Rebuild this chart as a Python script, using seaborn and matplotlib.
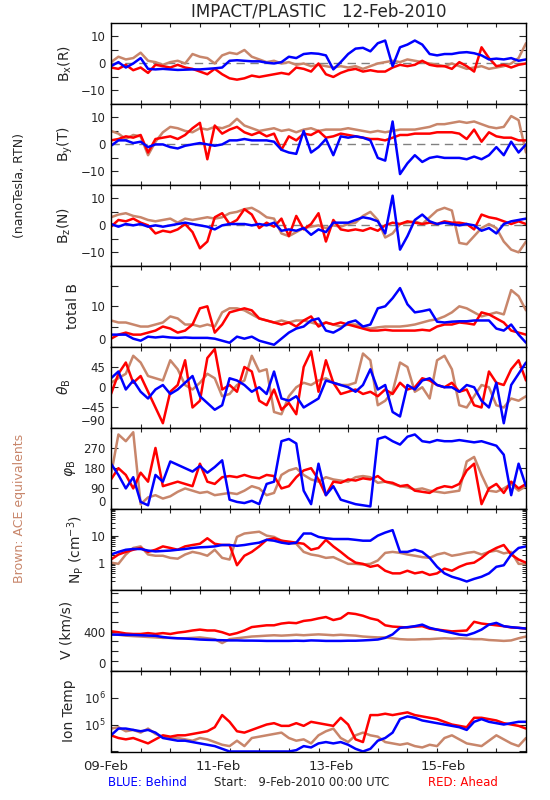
import numpy as np
import pandas as pd
import matplotlib
matplotlib.use('Agg')
import matplotlib.pyplot as plt
import matplotlib.ticker as mticker
import seaborn as sns

# 3-hourly samples starting 9-Feb-2010 00:00 (hours since start)
hours = np.arange(0, 169, 3)

# --- magnetic field components (nT) ---
bx_ace = [0.5, 2.5, 1.5, 2.0, 4.0, 1.0, 0.5, -0.5, 0.5, 1.0,
          0.0, 3.5, 2.5, 2.0, 0.0, 3.0, 4.0, 3.5, 5.0, 2.5,
          1.5, 0.5, 1.0, 0.0, 0.5, -0.5, 0.0, -1.0, -0.5, -1.0,
          -1.5, -1.0, -1.5, -1.0, -2.0, -1.0, 0.0, 0.5, 1.0, 0.5,
          1.5, 1.0, 0.5, 0.0, -0.5, -1.0, 0.0, -1.0, -2.0, -1.5,
          -1.0, -2.0, -1.5, -1.0, 0.0, 2.0, 7.5]
bx_ahead = [-1.5, -2.0, -0.5, -2.5, -1.5, -3.5, -0.5, -1.0, -1.5, -0.5,
            -1.5, -2.0, -3.0, -4.0, -2.0, -4.0, -5.5, -6.0, -5.5, -4.5,
            -5.0, -4.5, -4.0, -3.5, -4.0, -1.5, -2.0, -3.0, 0.0, -4.0,
            -5.0, -3.5, -2.5, -2.0, -3.0, -2.5, -3.0, -3.0, -1.5, -0.5,
            -1.0, -0.5, 1.0, -0.5, -1.0, -1.0, -2.0, 0.5, -1.0, -3.0,
            6.0, 2.0, -1.0, -0.5, -1.5, -0.5, 0.0]
bx_behind = [-1.0, 0.5, -1.5, 0.0, 2.0, -2.0, -2.2, -2.0, -2.2, -2.4,
             -2.3, -2.2, -2.2, -2.0, -1.8, -1.5, 1.0, 1.2, 1.0, 0.8,
             0.8, 0.3, 0.0, 0.5, 2.5, 2.0, 3.5, 3.8, 3.6, 3.0,
             -2.2, 0.5, 3.5, 5.5, 5.8, 4.5, 7.5, 8.5, -1.0, 6.0,
             7.0, 8.5, 7.0, 3.5, 3.0, 3.5, 3.5, 4.0, 4.2, 3.8,
             3.0, 1.5, 1.8, 1.5, 2.0, 1.0, 1.5]

by_ace = [5.0, 4.0, 2.0, 3.5, 3.0, -4.0, 1.0, 4.5, 6.5, 6.0,
          5.0, 4.5, 6.0, 5.5, 6.5, 6.0, 7.0, 9.5, 7.0, 6.0,
          5.0, 5.5, 6.0, 5.0, 5.5, 4.5, 5.5, 6.0, 5.0, 5.5,
          5.5, 5.5, 6.0, 5.5, 5.0, 4.5, 5.0, 4.5, 5.0, 5.5,
          5.5, 5.5, 6.0, 6.5, 7.5, 7.5, 8.0, 8.5, 8.0, 8.5,
          7.5, 6.5, 6.0, 6.5, 10.5, 9.0, -3.0]
by_ahead = [1.5, 2.0, 3.0, 2.5, 3.5, -3.0, 2.0, 2.5, 3.0, 2.0,
            3.5, 6.0, 8.0, -5.5, 7.0, 4.0, 5.5, 6.5, 4.5, 3.5,
            4.5, 3.0, 4.0, -2.0, 3.0, 1.5, 4.0, 3.5, 5.0, 2.5,
            3.0, 4.0, 3.5, 3.0, 2.5, 2.0, 2.0, 1.5, 2.5, 3.5,
            3.5, 4.0, 4.0, 4.0, 4.5, 4.5, 4.5, 4.0, 2.0, 5.5,
            1.0, 4.5, 3.0, 2.5, 2.5, 1.5, 1.5]
by_behind = [-0.5, 1.5, 1.5, 0.5, 1.0, -1.0, 0.0, 0.0, -1.0, -1.5,
             -0.5, 0.0, 0.5, 0.0, -0.5, 0.0, 1.5, 1.5, 2.0, 1.5,
             1.5, 1.5, 1.0, -2.0, -3.0, -3.5, 5.0, -3.0, -1.0, 2.0,
             -4.0, 3.0, 2.5, 3.0, 2.5, 1.5, -5.0, -6.0, 8.5, -11.0,
             -7.0, -4.0, -6.5, -5.0, -4.5, -5.0, -5.0, -5.0, -5.5, -4.5,
             -5.5, -4.0, -1.0, -4.0, 1.0, -3.0, 0.0]

bz_ace = [3.0, 4.0, 4.5, 3.5, 3.0, 2.0, 1.5, 2.0, 2.5, 1.0,
          2.5, 2.0, 2.5, 3.0, 2.5, 3.0, 4.5, 5.0, 6.0, 6.5,
          5.0, 3.0, 2.5, -3.0, -4.0, -2.5, -1.0, -0.5, 0.0, -1.0,
          0.0, -0.5, 0.5, 1.0, 3.5, 5.0, 2.0, -4.5, -3.0, 0.5,
          1.0, 1.5, 0.5, 3.0, 5.5, 6.5, 5.5, -6.5, -7.0, -4.0,
          -1.0, 0.5, -1.0, -6.0, -9.0, -10.0, -6.0]
bz_ahead = [-0.5, 2.0, 1.5, 2.5, 1.0, 0.0, -3.0, -2.0, -2.5, -1.5,
            0.5, -2.5, -8.5, -6.0, 3.0, 4.5, 0.5, 2.0, 6.0, 4.0,
            -1.0, 1.0, -0.5, 2.5, -4.0, 3.5, -1.5, 0.5, 4.5, -6.0,
            2.0, -1.5, -2.0, -1.5, -2.0, -1.0, -2.0, 0.0, 1.0, 0.5,
            1.5, 1.0, 0.5, 1.0, 0.5, 1.5, 1.0, 1.0, 0.5, -1.5,
            4.0, 3.0, 2.5, 1.5, 0.5, 1.5, 0.5]
bz_behind = [0.5, -0.5, 0.5, 0.0, 0.5, -0.5, 0.0, -0.5, 0.0, 0.5,
             1.0, 0.5, 0.0, -0.5, -1.5, 0.0, 0.5, 0.5, 0.5, 0.0,
             0.5, 0.0, 1.0, -2.0, -1.5, -2.0, -1.0, -3.5, -1.5, -2.5,
             1.0, 1.0, 1.0, 2.0, 3.0, 2.5, 1.5, -3.0, 11.0, -9.0,
             -4.0, 2.0, 4.0, 1.5, 0.5, 1.0, 0.5, 0.0, 0.5, 0.0,
             -2.0, -1.0, -3.0, 0.5, 1.5, 2.0, 2.5]

btot_ace = [6.5, 6.0, 6.0, 5.5, 5.0, 5.0, 5.5, 6.0, 7.5, 7.0,
            5.5, 5.5, 5.0, 5.5, 5.0, 8.5, 9.5, 9.5, 9.0, 8.0,
            7.0, 6.5, 6.0, 6.5, 6.0, 6.5, 6.5, 6.0, 5.5, 6.0,
            5.5, 5.0, 5.5, 5.5, 5.0, 4.5, 4.8, 5.0, 5.0, 5.0,
            5.2, 5.5, 6.0, 6.5, 6.8, 7.5, 8.5, 10.0, 9.5, 8.5,
            7.5, 8.0, 8.5, 8.0, 14.0, 12.5, 9.0]
btot_ahead = [2.0, 3.0, 3.5, 3.0, 3.0, 3.5, 4.0, 5.0, 4.5, 3.5,
              4.0, 5.5, 9.5, 10.0, 3.5, 5.5, 8.5, 9.0, 9.5, 9.0,
              7.0, 6.5, 6.0, 5.5, 6.0, 5.0, 6.5, 7.5, 5.0, 6.0,
              5.5, 6.0, 5.5, 5.0, 4.5, 4.0, 4.0, 4.2, 4.0, 4.0,
              4.0, 4.0, 4.2, 4.0, 5.0, 5.5, 5.5, 6.0, 5.8, 5.5,
              8.5, 8.0, 7.0, 6.0, 4.0, 3.5, 3.0]
btot_behind = [3.0, 3.0, 3.0, 2.0, 1.5, 2.5, 2.3, 2.5, 2.3, 2.2,
               2.3, 2.2, 2.2, 2.2, 2.0, 1.5, 1.0, 2.5, 2.0, 2.5,
               1.5, 1.0, 0.5, 2.0, 3.5, 4.5, 5.0, 6.5, 7.0, 4.0,
               3.5, 4.5, 6.0, 6.5, 5.0, 5.5, 9.5, 10.0, 12.0, 14.5,
               10.5, 8.5, 8.8, 9.2, 6.2, 6.0, 6.2, 6.3, 6.3, 6.5,
               6.5, 6.5, 4.5, 4.0, 5.5, 3.0, 1.0]

# --- field angles (deg) ---
theta_ace = [10, 20, 30, 70, 55, 25, 20, 15, 60, 40,
             5, -5, 10, 30, 20, -20, -15, 5, 15, 70,
             35, 40, -55, -60, -20, 0, 10, 5, 15, 20,
             10, 5, 5, 10, 75, 60, -40, -30, -10, 55,
             45, -10, 0, -25, 60, 70, 40, -40, -45, -20,
             5, 0, -40, -45, -25, -30, -20]
theta_ahead = [-15, 30, 55, 10, 25, -10, -45, -80, -10, 5,
               60, -45, -30, 65, 85, -5, 5, -10, 45, 35,
               -30, -40, -5, -50, -35, -60, 45, 80, -10, 60,
               10, -15, -10, -5, -15, -10, -20, -5, -15, 10,
               -5, 0, 20, 15, 5, 0, 10, -10, -5, -40,
               -45, 35, 10, 5, 40, 60, 15]
theta_behind = [20, 35, -5, 15, -10, -25, -5, 5, -15, -5,
                10, 25, -20, -35, -50, -40, 20, 15, 5, -10,
                0, -15, 35, -25, -30, -20, -45, -35, -25, 15,
                10, 5, 0, -10, 5, 40, -5, 5, -55, -65,
                5, -5, 15, 20, 5, 0, 0, -10, 5, 0,
                -30, -45, 10, -80, 5, 30, 55]

phi_ace = [150, 330, 300, 340, 20, 50, 60, 45, 55, 75,
           90, 80, 70, 75, 60, 65, 70, 65, 80, 100,
           90, 60, 70, 150, 170, 180, 150, 130, 120, 140,
           130, 125, 120, 140, 145, 140, 115, 120, 110, 100,
           95, 85, 90, 80, 75, 70, 75, 80, 210, 230,
           150, 80, 75, 90, 110, 80, 100]
phi_ahead = [130, 180, 150, 90, 160, 120, 270, 100, 110, 120,
             110, 100, 200, 120, 110, 140, 145, 140, 150, 140,
             135, 150, 145, 90, 100, 140, 170, 180, 130, 60,
             120, 115, 130, 125, 135, 130, 145, 120, 115, 100,
             105, 80, 75, 70, 90, 100, 95, 110, 170, 200,
             20, 90, 110, 70, 120, 90, 110]
phi_behind = [200, 150, 90, 140, 30, 15, 150, 120, 210, 195,
              180, 165, 190, 160, 185, 215, 40, 30, 25, 35,
              20, 110, 120, 300, 310, 290, 80, 20, 200, 60,
              100, 40, 30, 20, 15, 10, 310, 320, 300, 285,
              320, 330, 300, 295, 305, 300, 300, 305, 300, 295,
              300, 290, 280, 240, 60, 200, 100]

# --- plasma ---
np_ace = [1.0, 0.9, 2.0, 3.5, 4.0, 2.0, 1.8, 1.8, 1.5, 1.4,
          2.0, 2.5, 2.2, 1.8, 3.0, 1.5, 1.3, 9.0, 12.0, 13.0,
          14.0, 10.0, 9.0, 6.5, 5.5, 5.0, 2.5, 2.0, 1.8, 1.5,
          1.6, 1.2, 0.9, 0.9, 0.85, 0.9, 1.2, 2.3, 2.5, 2.3,
          2.0, 1.8, 1.6, 1.5, 2.0, 2.3, 1.8, 2.0, 2.3, 2.5,
          2.0, 2.5, 2.8, 2.2, 2.5, 0.9, 0.9]
np_ahead = [1.3, 2.0, 2.5, 3.0, 3.5, 2.5, 3.0, 4.0, 3.5, 3.0,
            4.0, 4.5, 5.0, 8.0, 5.0, 4.5, 4.5, 0.8, 1.8, 2.5,
            4.0, 7.0, 8.0, 6.5, 6.0, 5.5, 5.0, 3.0, 3.5, 7.0,
            4.0, 2.5, 1.5, 1.0, 0.9, 0.7, 0.8, 0.5, 0.4, 0.4,
            0.5, 0.4, 0.45, 0.35, 0.4, 0.6, 0.5, 0.7, 0.9, 1.0,
            1.5, 2.5, 3.5, 4.5, 2.0, 1.3, 1.0]
np_behind = [2.0, 2.5, 3.0, 3.2, 3.2, 2.8, 2.6, 2.7, 2.8, 3.0,
             3.2, 3.5, 3.7, 3.8, 4.0, 4.5, 4.5, 4.2, 4.5, 5.0,
             5.5, 7.0, 6.5, 5.5, 5.0, 5.5, 12.0, 12.0, 9.0, 8.0,
             7.5, 7.5, 7.5, 7.0, 6.5, 6.5, 10.0, 13.0, 16.0, 2.5,
             2.5, 3.0, 2.5, 1.5, 0.7, 0.4, 0.3, 0.25, 0.2, 0.25,
             0.3, 0.4, 0.7, 0.8, 2.0, 3.5, 4.0]

v_ace = [375, 367, 358, 353, 349, 344, 340, 335, 335, 331,
         331, 335, 340, 331, 322, 282, 322, 331, 340, 349,
         353, 358, 362, 358, 362, 367, 362, 367, 371, 367,
         362, 367, 362, 358, 349, 344, 340, 340, 331, 322,
         318, 318, 322, 322, 327, 331, 327, 331, 327, 322,
         322, 313, 309, 304, 309, 331, 349]
v_ahead = [403, 393, 380, 375, 375, 384, 375, 384, 375, 389,
           398, 411, 420, 411, 411, 393, 367, 384, 411, 446,
           455, 464, 464, 482, 491, 486, 509, 518, 535, 549,
           518, 535, 589, 580, 562, 535, 518, 464, 451, 446,
           442, 451, 455, 429, 420, 411, 402, 406, 411, 500,
           482, 473, 464, 455, 442, 438, 429]
v_behind = [369, 368, 366, 365, 362, 359, 356, 344, 335, 331,
            328, 324, 318, 315, 313, 311, 309, 309, 307, 307,
            306, 304, 304, 304, 304, 306, 304, 309, 307, 304,
            304, 304, 306, 306, 309, 313, 318, 335, 371, 438,
            445, 455, 471, 438, 420, 403, 386, 369, 362, 386,
            420, 471, 489, 455, 445, 438, 431]

# ion temperature, log10(K)
logt_ace = [4.85, 4.9, 4.75, 4.8, 4.7, 4.85, 4.65, 4.55, 4.5, 4.5,
            4.45, 4.4, 4.5, 4.45, 4.35, 4.25, 4.2, 4.4, 4.2, 4.5,
            4.55, 4.6, 4.65, 4.7, 4.5, 4.4, 4.45, 4.3, 4.6, 4.75,
            4.85, 4.5, 4.35, 4.6, 4.7, 4.6, 4.55, 4.35, 4.3, 4.25,
            4.3, 4.2, 4.15, 4.25, 4.2, 4.5, 4.6, 4.45, 4.3, 4.25,
            4.2, 4.4, 4.6, 4.45, 4.3, 4.2, 4.5]
logt_ahead = [4.6, 4.5, 4.45, 4.5, 4.4, 4.3, 4.45, 4.6, 4.55, 4.6,
              4.6, 4.65, 4.7, 4.75, 4.9, 5.35, 5.1, 4.75, 4.7, 4.8,
              4.9, 5.0, 5.05, 4.95, 4.95, 5.05, 4.95, 5.1, 5.05, 5.0,
              4.95, 5.25, 5.0, 4.45, 4.35, 5.35, 5.35, 5.4, 5.35, 5.4,
              5.45, 5.35, 5.3, 5.25, 5.2, 5.1, 5.0, 4.95, 4.9, 5.25,
              5.25, 5.2, 5.15, 5.05, 5.0, 4.95, 4.85]
logt_behind = [4.6, 4.85, 4.85, 4.8, 4.75, 4.8, 4.7, 4.5, 4.45, 4.4,
               4.4, 4.35, 4.3, 4.25, 4.2, 4.1, 4.0, 4.0, 4.0, 4.0,
               4.0, 4.0, 4.0, 4.0, 4.0, 4.05, 4.2, 4.15, 4.3, 4.35,
               4.3, 4.35, 4.25, 4.1, 4.0, 4.1, 4.4, 4.5, 4.7, 5.2,
               5.3, 5.25, 5.15, 5.1, 5.05, 5.0, 4.95, 4.9, 4.8, 5.1,
               5.2, 5.1, 5.05, 5.0, 5.05, 5.1, 5.1]

date_labels = ['09-Feb', '11-Feb', '13-Feb', '15-Feb']
date_label_px = [105.5, 218, 331, 443]

COLORS = {'ACE': '#C8866B', 'Ahead': '#FF0000', 'Behind': '#0000FF'}
ORDER = ['ACE', 'Ahead', 'Behind']


def craft_frame(ace, ahead, behind):
    day = hours / 24.0
    parts = []
    for name, vals in zip(ORDER, (ace, ahead, behind)):
        vals = np.asarray(vals, dtype=float)
        parts.append(pd.DataFrame({'day': day[:len(vals)], 'value': vals, 'craft': name}))
    return pd.concat(parts, ignore_index=True)


sns.set_style('ticks')
plt.rcParams['font.family'] = ['DejaVu Sans']
plt.rcParams['axes.unicode_minus'] = True

W, H = 550, 800
LEFT, RIGHT = 111, 526
TOP, BOTTOM = 23, 751.5
PH = (BOTTOM - TOP) / 9

fig = plt.figure(figsize=(W / 100, H / 100), dpi=100)
fig.patch.set_facecolor('white')

panels = [
    dict(label=r'B$_{\rm x}$(R)', lx=65, data=(bx_ace, bx_ahead, bx_behind), ylim=(-15, 15),
         ticks=[-10, -5, 0, 5, 10], tlabels=['\u221210', '', '0', '', '10'], zero=True),
    dict(label=r'B$_{\rm y}$(T)', lx=65, data=(by_ace, by_ahead, by_behind), ylim=(-15, 15),
         ticks=[-10, -5, 0, 5, 10], tlabels=['\u221210', '', '0', '', '10'], zero=True),
    dict(label=r'B$_{\rm z}$(N)', lx=64, data=(bz_ace, bz_ahead, bz_behind), ylim=(-15, 15),
         ticks=[-10, -5, 0, 5, 10], tlabels=['\u221210', '', '0', '', '10'], zero=True),
    dict(label='total B', lx=73, data=(btot_ace, btot_ahead, btot_behind), ylim=(0, 20),
         ticks=[0, 5, 10, 15], tlabels=['0', '', '10', '']),
    dict(label=r'$\theta_{\rm B}$', lx=64, data=(theta_ace, theta_ahead, theta_behind), ylim=(-90, 90),
         ticks=[-90, -45, 0, 45], tlabels=['\u221290', '\u221245', '0', '45']),
    dict(label=r'$\varphi_{\rm B}$', lx=70, data=(phi_ace, phi_ahead, phi_behind), ylim=(0, 360),
         ticks=[0, 90, 180, 270], tlabels=['0', '90', '180', '270']),
    dict(label=r'N$_{\rm P}$ (cm$^{-3}$)', lx=75, data=(np_ace, np_ahead, np_behind), ylim=(0.1, 100),
         ticks=[0.1, 1, 10, 100], tlabels=['', '1', '10', ''], log=True, minor=True),
    dict(label='V (km/s)', lx=67, data=(v_ace, v_ahead, v_behind), ylim=(0, 830),
         ticks=[0, 100, 200, 300, 400, 500, 600, 700, 800],
         tlabels=['0', '', '', '', '400', '', '', '', '']),
    dict(label='Ion Temp', lx=69,
         data=tuple(np.power(10.0, np.asarray(v)) for v in (logt_ace, logt_ahead, logt_behind)),
         ylim=(1e4, 1e7), ticks=[1e4, 1e5, 1e6, 1e7],
         tlabels=['', r'10$^5$', r'10$^6$', ''], log=True),
]

for i, p in enumerate(panels):
    y0 = TOP + i * PH
    ax = fig.add_axes([LEFT / W, 1 - (y0 + PH) / H, (RIGHT - LEFT) / W, PH / H])
    ax.set_facecolor('white')
    df = craft_frame(*p['data'])
    if p.get('zero'):
        ax.axhline(0, color='#808080', lw=1.0, ls=(0, (6, 4)), zorder=1)
    sns.lineplot(data=df, x='day', y='value', hue='craft', hue_order=ORDER, palette=COLORS,
                 estimator=None, sort=False, legend=False, lw=1.8, ax=ax, zorder=2)
    if p.get('log'):
        ax.set_yscale('log')
    ax.set_xlim(0, 7)
    ax.set_ylim(*p['ylim'])
    ax.set_xlabel('')
    ax.set_ylabel('')

    ax.xaxis.set_major_locator(mticker.MultipleLocator(0.5))
    ax.xaxis.set_minor_locator(mticker.NullLocator())
    ax.tick_params(axis='x', which='major', direction='in', top=True, bottom=True,
                   length=3, width=0.8, labelbottom=False)

    ax.set_yticks(p['ticks'], p['tlabels'])
    if p.get('minor'):
        ax.yaxis.set_minor_locator(mticker.LogLocator(base=10, subs=np.arange(2, 10)))
        ax.yaxis.set_minor_formatter(mticker.NullFormatter())
        ax.tick_params(axis='y', which='minor', direction='in', left=True, right=True,
                       length=3, width=0.7)
    else:
        ax.yaxis.set_minor_locator(mticker.NullLocator())
    ax.tick_params(axis='y', which='major', direction='in', left=True, right=True,
                   length=5, width=0.8, labelsize=8.5, pad=4)
    # label sitting on the lower frame is lifted inside the panel
    if p['ticks'][0] == p['ylim'][0] and p['tlabels'][0]:
        ax.get_yticklabels()[0].set_verticalalignment('bottom')

    for sp in ax.spines.values():
        sp.set_linewidth(1.0)
        sp.set_color('black')

    ax.text((p['lx'] - LEFT) / (RIGHT - LEFT), 0.5, p['label'], transform=ax.transAxes,
            rotation=90, ha='center', va='center', fontsize=10)

fig.text(318.5 / W, 1 - 11 / H, 'IMPACT/PLASTIC   12-Feb-2010', ha='center', va='center', fontsize=12)
fig.text(20 / W, 1 - 185 / H, '(nanoTesla, RTN)', rotation=90, ha='center', va='center', fontsize=9)
fig.text(20 / W, 1 - 508 / H, 'Brown: ACE equivalents', rotation=90, ha='center', va='center',
         fontsize=9, color=COLORS['ACE'])

for lab, px in zip(date_labels, date_label_px):
    fig.text(px / W, 1 - 767 / H, lab, ha='center', va='center', fontsize=9.5)

fig.text(147 / W, 1 - 783 / H, 'BLUE: Behind', ha='center', va='center', fontsize=8.5, color='#0000FF')
fig.text(302 / W, 1 - 783 / H, 'Start:   9-Feb-2010 00:00 UTC', ha='center', va='center', fontsize=8.5)
fig.text(463 / W, 1 - 783 / H, 'RED: Ahead', ha='center', va='center', fontsize=8.5, color='#FF0000')

fig.savefig('out.png', dpi=100, facecolor='white')
plt.close(fig)
